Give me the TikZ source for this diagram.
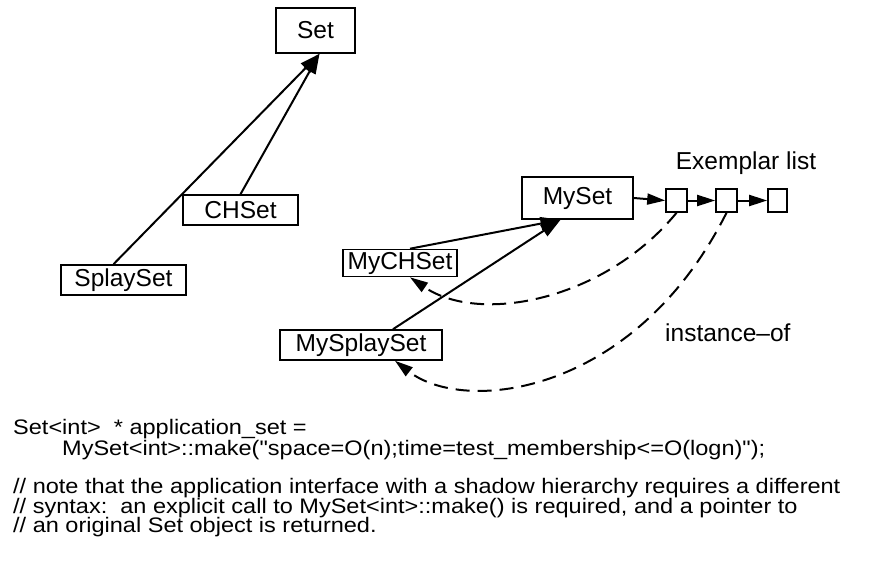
\documentclass[tikz,border=0pt]{standalone}
\usepackage{fontspec}
\setmainfont{Liberation Sans}
\newfontfamily\codefont{Liberation Sans}[Ligatures=TeXOff,FakeStretch=1.12]
\usetikzlibrary{arrows.meta}

\tikzset{
  cls/.style={draw,line width=1.6pt,inner sep=0pt,font=\fontsize{24.5}{25}\selectfont},
  ex/.style={draw,line width=1.6pt,inner sep=0pt,minimum width=21pt,minimum height=23pt},
  lbl/.style={inner sep=0pt,font=\fontsize{24.5}{25}\selectfont},
  isa/.style={line width=2pt,-{Triangle[length=20pt,width=13pt]}},
  nxt/.style={line width=2pt,-{Triangle[length=18pt,width=11pt]}},
  inst/.style={line width=2pt,dash pattern=on 14pt off 8pt,-{Triangle[length=18pt,width=11pt]}},
  code/.style={anchor=base west,inner sep=0pt,font=\codefont\fontsize{21}{21}\selectfont}
}

\begin{document}
\begin{tikzpicture}[x=1pt,y=-1pt]
\useasboundingbox (0,0) rectangle (872,563);
% original hierarchy
\node [cls,minimum width=79pt,minimum height=45pt] (set) at (315.5,30.5) {Set};
\node [cls,minimum width=115pt,minimum height=30pt] (chset) at (240.5,210) {CHSet};
\node [cls,minimum width=125pt,minimum height=30pt] (splay) at (123.5,280) {SplaySet};
\draw [isa] (chset.north) -- ([xshift=4pt]set.south);
\draw [isa] ([xshift=-10pt]splay.north) -- ([xshift=4pt]set.south);
% shadow hierarchy
\node [cls,minimum width=111pt,minimum height=42pt] (myset) at (577.5,198) {MySet};
\node [cls,minimum width=114pt,minimum height=27pt] (mych) at (400,263) {MyCHSet};
\node [cls,minimum width=162pt,minimum height=30pt] (mysplay) at (361,345) {MySplaySet};
\draw [isa] ([xshift=10pt]mych.north) -- ([xshift=-17pt]myset.south);
\draw [isa] ([xshift=32pt]mysplay.north) -- ([xshift=-17pt]myset.south);
% exemplar list
\node [ex] (e1) at (676.5,200.5) {};
\node [ex] (e2) at (726.5,200.5) {};
\node [ex,minimum width=19pt] (e3) at (777.5,200.5) {};
\node [lbl] (exlist) at (746,163) {Exemplar list};
\draw [nxt] (myset.east) -- (e1.west);
\draw [nxt] (e1.east) -- (e2.west);
\draw [nxt] (e2.east) -- (e3.west);
\draw [inst] (e1.south) .. controls (605,300) and (480,325) .. ([xshift=10pt]mych.south);
\draw [inst] (e2.south) .. controls (635,395) and (465,415) .. ([xshift=34pt]mysplay.south);
\node [lbl,anchor=west] (instof) at (665,333) {instance–of};
% code
\node [code] (l1) at (13,434) {Set<int>\ \ * application\_set =};
\node [code] (l2) at (62,455) {MySet<int>::make("space=O(n);time=test\_membership<=O(logn)");};
\node [code] (l3) at (13,493) {// note that the application interface with a shadow hierarchy requires a different};
\node [code] (l4) at (13,513) {// syntax:\ \ an explicit call to MySet<int>::make() is required, and a pointer to};
\node [code] (l5) at (13,532) {// an original Set object is returned.};
\end{tikzpicture}
\end{document}
